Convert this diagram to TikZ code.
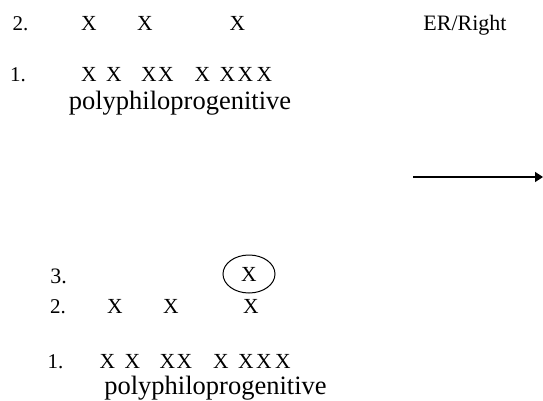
\documentclass[tikz,border=0pt]{standalone}
\usepackage{fontspec}
\setmainfont{Liberation Serif}
\usetikzlibrary{shapes.geometric,arrows.meta}
\begin{document}
\begin{tikzpicture}[x=1pt,y=-1pt,
  num/.style={anchor=base,inner sep=0pt,font=\fontsize{21}{21}\selectfont},
  xx/.style={anchor=base,inner sep=0pt,font=\fontsize{21.5}{21.5}\selectfont},
  word/.style={anchor=base,inner sep=0pt,font=\fontsize{26.5}{26.5}\selectfont},
  lab/.style={anchor=base,inner sep=0pt,font=\fontsize{22}{22}\selectfont},
  ring/.style={draw,ellipse,line width=1pt,minimum width=52pt,minimum height=38pt,inner sep=0pt},
  conn/.style={line width=1.5pt,-{Triangle[length=8pt,width=10pt]}}]
\useasboundingbox (0,0) rectangle (543,401);
% top block
\node[num] (t2) at (20.5,31) {2.};
\node[xx] (t2a) at (89,31) {X};
\node[xx] (t2b) at (145,31) {X};
\node[xx] (t2c) at (237.5,31) {X};
\node[lab] (er) at (465,31) {ER/Right};
\node[num] (t1) at (18,82) {1.};
\foreach \i/\x in {1/89,2/114,3/149,4/166,5/202.5,6/227.5,7/245.5,8/264.5}
  \node[xx] (t1\i) at (\x,82) {X};
\node[word] (tw) at (180,110) {polyphiloprogenitive};
% arrow
\coordinate (as) at (413,177);
\coordinate (ae) at (543,177);
\draw[conn] (as) -- (ae);
% bottom block
\node[lab] (b3) at (58.5,283) {3.};
\node[ring] (ring) at (249,274) {};
\node[xx] (b3x) at (249,281) {X};
\node[num] (b2) at (58,313) {2.};
\node[xx] (b2a) at (115,313) {X};
\node[xx] (b2b) at (171,313) {X};
\node[xx] (b2c) at (251,313) {X};
\node[num] (b1) at (55.5,368) {1.};
\foreach \i/\x in {1/107.5,2/132.5,3/167.5,4/184.5,5/221,6/246,7/264,8/283}
  \node[xx] (b1\i) at (\x,368) {X};
\node[word] (bw) at (215.5,394) {polyphiloprogenitive};
\end{tikzpicture}
\end{document}
